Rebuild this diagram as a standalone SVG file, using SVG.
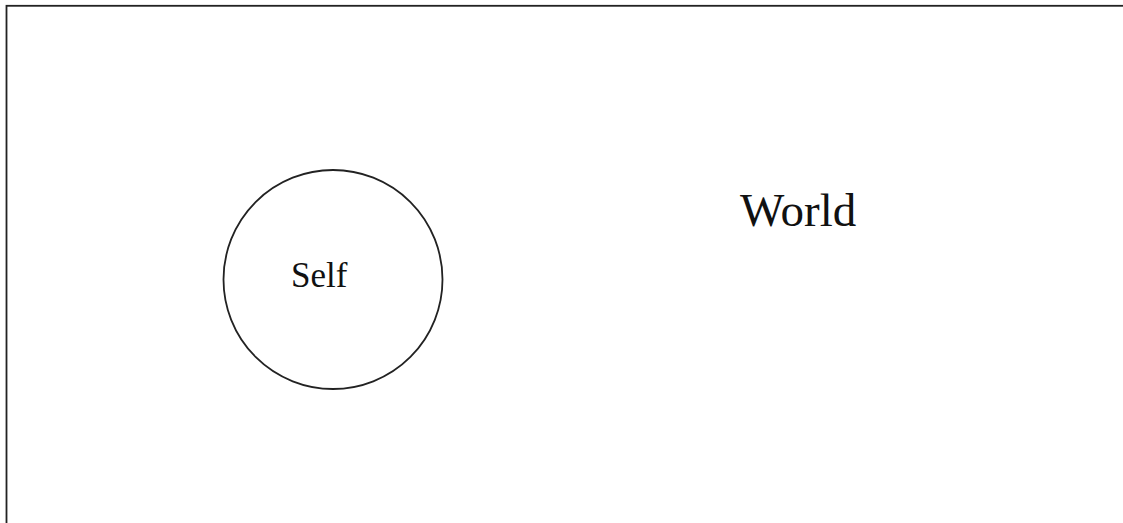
<svg xmlns="http://www.w3.org/2000/svg" width="1123" height="523" viewBox="0 0 1123 523">
<style>
.t{font-family:"Liberation Serif","Times New Roman",serif;fill:#111}
.s{fill:none;stroke:#222;stroke-width:1.8}
</style>
<rect width="1123" height="523" fill="#fff"/>
<g id="world">
<rect class="s" x="6.5" y="5.8" width="1200" height="600"/>
<text class="t" x="740" y="226" font-size="47">World</text>
</g>
<g id="self">
<circle class="s" cx="333" cy="279.5" r="109.5" stroke-width="1.6"/>
<text class="t" x="291" y="287" font-size="35">Self</text>
</g>
<g id="connectors"></g>
</svg>
